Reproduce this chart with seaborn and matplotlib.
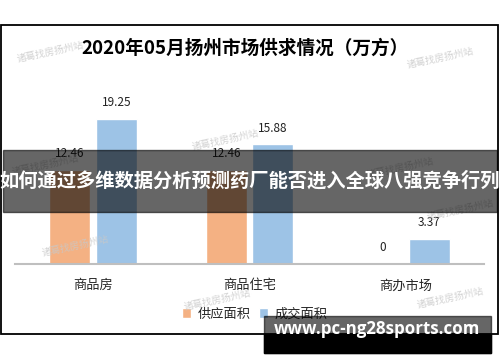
import matplotlib
matplotlib.use("Agg")
import matplotlib.pyplot as plt
import matplotlib.patches as mpatches
import seaborn as sns
import pandas as pd

# chart data
categories = ["商品房", "商品住宅", "商办市场"]
series_names = ["供应面积", "成交面积"]
supply = [12.46, 12.46, 0]
deal = [19.25, 15.88, 3.37]

title = "2020年05月扬州市场供求情况（万方）"
banner = "如何通过多维数据分析预测药厂能否进入全球八强竞争行列"
site = "www.pc-ng28sports.com"
watermark = "诸葛找房扬州站"

colors = ["#F4B183", "#9DC3E6"]

df = pd.DataFrame({
    "category": categories * 2,
    "series": [series_names[0]] * 3 + [series_names[1]] * 3,
    "value": supply + deal,
})

sns.set_style("white")
plt.rcParams["font.family"] = ["Noto Sans CJK SC", "DejaVu Sans"]

W, H = 500, 362
fig = plt.figure(figsize=(W / 100, H / 100), dpi=100)


def fx(x):
    return x / W


def fy(y):
    return 1 - y / H


# axes: baseline at y=264px, 7.53 px per unit
ymax = 22
px_per_unit = 7.53
ax_h = ymax * px_per_unit
ax = fig.add_axes([fx(15), fy(264), (484 - 15) / W, ax_h / H])

sns.barplot(data=df, x="category", y="value", hue="series", palette=colors,
            width=0.596, gap=0.12, ax=ax, saturation=1, legend=True)

ax.set_ylim(0, ymax)
ax.set_xlim(-0.5, 2.5)
ax.set_xlabel("")
ax.set_ylabel("")
ax.set_yticks([])
ax.tick_params(axis="x", length=0, pad=11, labelsize=9.5)
for side in ["top", "left", "right"]:
    ax.spines[side].set_visible(False)
ax.spines["bottom"].set_color("#bfbfbf")
ax.spines["bottom"].set_linewidth(1.5)

for container in ax.containers:
    labels = ["0" if v == 0 else f"{v:.2f}" for v in container.datavalues]
    ax.bar_label(container, labels=labels, padding=7, fontsize=8.5, color="#222222")

ax.legend(loc="center", bbox_to_anchor=(fx(255), fy(314)),
          bbox_transform=fig.transFigure, ncol=2, frameon=False,
          handlelength=0.7, handleheight=0.7, handletextpad=0.5,
          columnspacing=0.6, fontsize=9.5)

fig.text(fx(245), fy(48), title, ha="center", va="center",
         fontsize=13.4, fontweight="bold", color="black")

# outer frame
fig.patches.append(mpatches.Rectangle((fx(1), fy(334)), (498 - 1) / W, (334 - 25) / H,
                                      transform=fig.transFigure, fill=False,
                                      edgecolor="black", linewidth=1.3, zorder=5))

# watermarks
wm_pos = [(50, 52), (440, 58), (225, 140), (45, 165), (400, 168),
          (460, 210), (75, 246), (217, 300), (450, 298)]
for x, y in wm_pos:
    fig.text(fx(x), fy(y), watermark, ha="center", va="center", fontsize=7,
             color="#c8c8c8", alpha=0.8, rotation=12, zorder=6)

# overlay banner
fig.patches.append(mpatches.Rectangle((fx(3), fy(212)), (497 - 3) / W, (212 - 150) / H,
                                      transform=fig.transFigure, color="black",
                                      alpha=0.6, zorder=10))
fig.text(fx(250), fy(181), banner, ha="center", va="center", fontsize=13.9,
         fontweight="bold", color="white", zorder=11)

# site box
fig.patches.append(mpatches.Rectangle((fx(264), fy(353)), (491 - 264) / W, (353 - 316) / H,
                                      transform=fig.transFigure, color="black",
                                      alpha=0.6, zorder=10))
fig.patches.append(mpatches.Rectangle((fx(264), fy(353)), (491 - 264) / W, (353 - 334) / H,
                                      transform=fig.transFigure, color="black",
                                      zorder=10))
fig.text(fx(377), fy(329), site, ha="center", va="center", fontsize=12.2,
         fontweight="bold", color="white", family=["Open Sans", "DejaVu Sans"], zorder=11)

fig.savefig("out.png", dpi=100)
